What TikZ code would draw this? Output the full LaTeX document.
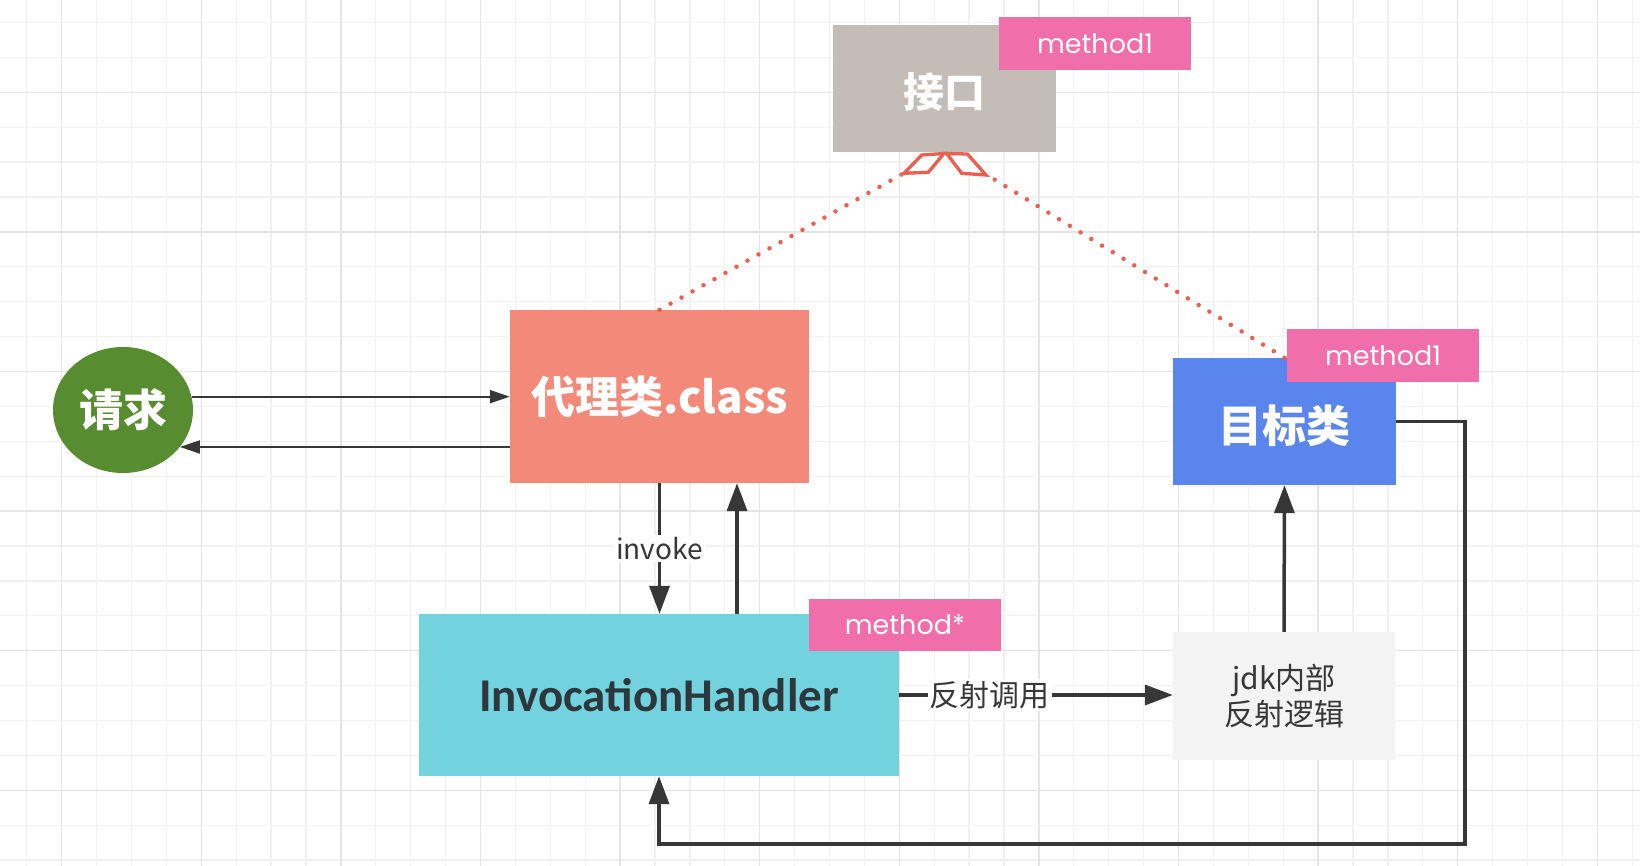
\documentclass[tikz,border=0pt]{standalone}
\usepackage{fontspec}
\usetikzlibrary{arrows.meta,shapes.geometric}
\newfontfamily\cjk{Noto Sans CJK SC}
\newfontfamily\popf{Poppins}
\newfontfamily\carl{Carlito}
\definecolor{gridmin}{RGB}{241,241,241}
\definecolor{gridmaj}{RGB}{229,229,229}
\definecolor{ifgray}{RGB}{196,188,182}
\definecolor{tagpink}{RGB}{240,110,170}
\definecolor{salmon}{RGB}{243,137,120}
\definecolor{tblue}{RGB}{90,133,236}
\definecolor{ihcyan}{RGB}{114,210,222}
\definecolor{reqgreen}{RGB}{88,140,48}
\definecolor{jdkgray}{RGB}{243,243,243}
\definecolor{lnk}{RGB}{55,55,55}
\definecolor{ired}{RGB}{235,95,80}
\definecolor{ihtext}{RGB}{45,55,60}
\begin{document}
\begin{tikzpicture}[x=1pt,y=-1pt,
  box/.style={rectangle,inner sep=0pt,anchor=center},
  tag/.style={box,fill=tagpink,minimum width=192pt,minimum height=53pt,text=white,font=\popf\fontsize{27}{30}\selectfont},
  title/.style={text=white,font=\cjk\bfseries\fontsize{#1}{#1}\selectfont},
  thinarr/.style={draw=lnk,line width=2pt,-{Triangle[length=20pt,width=13pt]}},
  thickarr/.style={draw=lnk,line width=3.5pt,-{Triangle[length=28pt,width=20pt]}},
  dotline/.style={draw=ired,line width=4.5pt,line cap=round,dash pattern=on 0pt off 12.6pt},
  headshape/.style={draw=ired,line width=3.3pt,line join=miter,fill=white},
  lbl/.style={fill=white,inner sep=2pt,text=lnk,font=\cjk\fontsize{#1}{#1}\selectfont}
]
\useasboundingbox (0,0) rectangle (1640,866);
\fill[white] (0,0) rectangle (1640,866);
% grid
\foreach \i in {-1,...,45} {
  \pgfmathsetmacro\xx{61.7+34.9*\i}
  \draw[gridmin,line width=1.3pt] (\xx,0) -- (\xx,866);
}
\foreach \i in {-3,...,23} {
  \pgfmathsetmacro\yy{92.3+34.9*\i}
  \draw[gridmin,line width=1.3pt] (0,\yy) -- (1640,\yy);
}
\foreach \i in {0,...,11} {
  \pgfmathsetmacro\xx{61.7+139.6*\i}
  \draw[gridmaj,line width=1.4pt] (\xx,0) -- (\xx,866);
}
\foreach \i in {-1,...,6} {
  \pgfmathsetmacro\yy{92.3+139.6*\i}
  \draw[gridmaj,line width=1.4pt] (0,\yy) -- (1640,\yy);
}

% nodes
\node[box,fill=ifgray,minimum width=223pt,minimum height=127pt] (jiekou) at (944.5,88.5) {};
\node[title=41] at (944.5,92) {接口};
\node[tag] (tag1) at (1095,43.5) {method1};

\node[ellipse,fill=reqgreen,minimum width=140pt,minimum height=126pt,inner sep=0pt,title=44] (req) at (123,410) {请求};

\node[box,fill=salmon,minimum width=299pt,minimum height=173pt,title=44] (daili) at (659.5,396.5) {代理类.class};

\node[box,fill=tblue,minimum width=223pt,minimum height=127pt] (target) at (1284.5,421.5) {};
\node[title=44] at (1284.5,426) {目标类};
\node[tag] (tag2) at (1383,355.5) {method1};

\node[box,fill=ihcyan,minimum width=480pt,minimum height=162pt,text=ihtext,font=\carl\bfseries\fontsize{47}{47}\selectfont] (ih) at (659,695) {InvocationHandler};
\node[tag,minimum height=52pt] (tag3) at (905,625) {method*};

\node[box,fill=jdkgray,minimum width=222pt,minimum height=128pt,align=center,text=lnk,font=\cjk\fontsize{30}{36}\selectfont] (jdk) at (1284,696) {jdk内部\\反射逻辑};

% request arrows
\draw[thinarr] (req.11) -- (req.11 -| daili.west);
\coordinate (r2) at (req.-33);
\draw[thinarr] (r2 -| daili.west) -- (r2);

% invoke
\draw[thickarr] (daili.south) -- node[lbl=28]{invoke} (daili.south |- ih.north);
\draw[thickarr] ([xshift=78pt]ih.north) -- ([xshift=78pt]ih.north |- daili.south);

% reflect call
\draw[thickarr] (ih.east) -- node[pos=0.33,lbl=30]{反射调用} (ih.east -| jdk.west);
\draw[thickarr] (jdk.north) -- (target.south);

% loop back
\coordinate (c1) at (1465,844);
\draw[thickarr,line join=miter] (target.east) -| (c1) -| (ih.south);

% dotted realization lines
\coordinate (lh) at (906,172);
\coordinate (rh) at (984,173);
\draw[dotline] (daili.north) -- (lh);
\draw[dotline] (target.north) -- (rh);
\draw[headshape] (904,173.3) -- (921.7,155) -- (944,153.5) -- (928.3,172.3) -- cycle;
\draw[headshape] (946.7,153.5) -- (967.3,154) -- (986,175) -- (961.7,173.3) -- cycle;
\end{tikzpicture}
\end{document}
